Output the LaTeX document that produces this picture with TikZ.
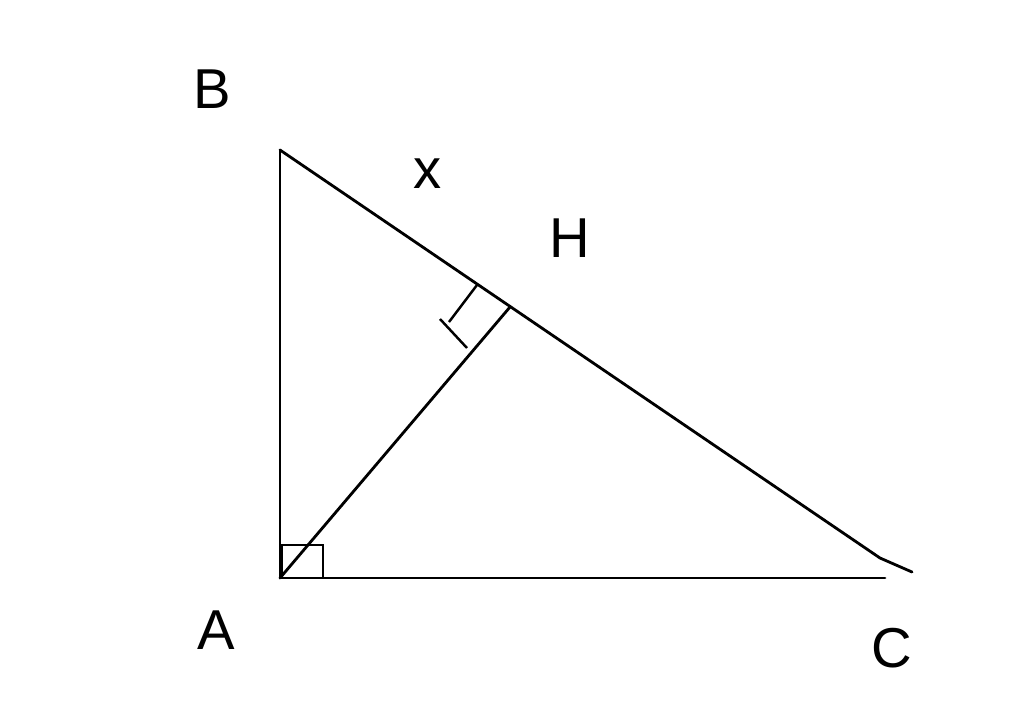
\documentclass[tikz,border=0pt]{standalone}
\usepackage{fontspec}
\setmainfont{Liberation Sans}
\usetikzlibrary{positioning}
\tikzset{x=0.02cm, y=-0.02cm, % one unit is one pixel of the sketch
ptlabel/.style={ % Sets the properties for the point names
font=\fontsize{32}{38}\selectfont,
inner sep=0pt},
side/.style={ % Sets the properties for each segment
draw,
line width=1.6pt,
line join=round,
line cap=round},
rightmark/.style={
draw,
line width=1.4pt}}

\begin{document}
\begin{tikzpicture}
					\useasboundingbox (0,0) rectangle (1024,714);
					\coordinate (A) at (280,578);
					\coordinate (B) at (280,150);
					\coordinate (H) at (510,307);
					\coordinate (C1) at (880,558);
					\coordinate (C2) at (912,572);
					\coordinate (C3) at (885,578);

					\node[ptlabel] (lA) at (216,630) {A};
					\node[ptlabel] (lB) at (212,89) {B};
					\node[ptlabel] (lC) at (892,648) {C};
					\node[ptlabel] (lH) at (570,238) {H};
					\node[ptlabel] (lx) at (428,174) {x};

					\draw[side] (A) -- (B);
					\draw[side] (B) -- (C1) -- (C2);
					\draw[side] (A) -- (C3);
					\draw[side] (A) -- (H);

					% right angles
					\draw[rightmark] (282,545) rectangle (323,578);
					\draw[rightmark] (477,285) -- (449,322);
					\draw[rightmark] (440,319) -- (467,348);
				\end{tikzpicture}
\end{document}
